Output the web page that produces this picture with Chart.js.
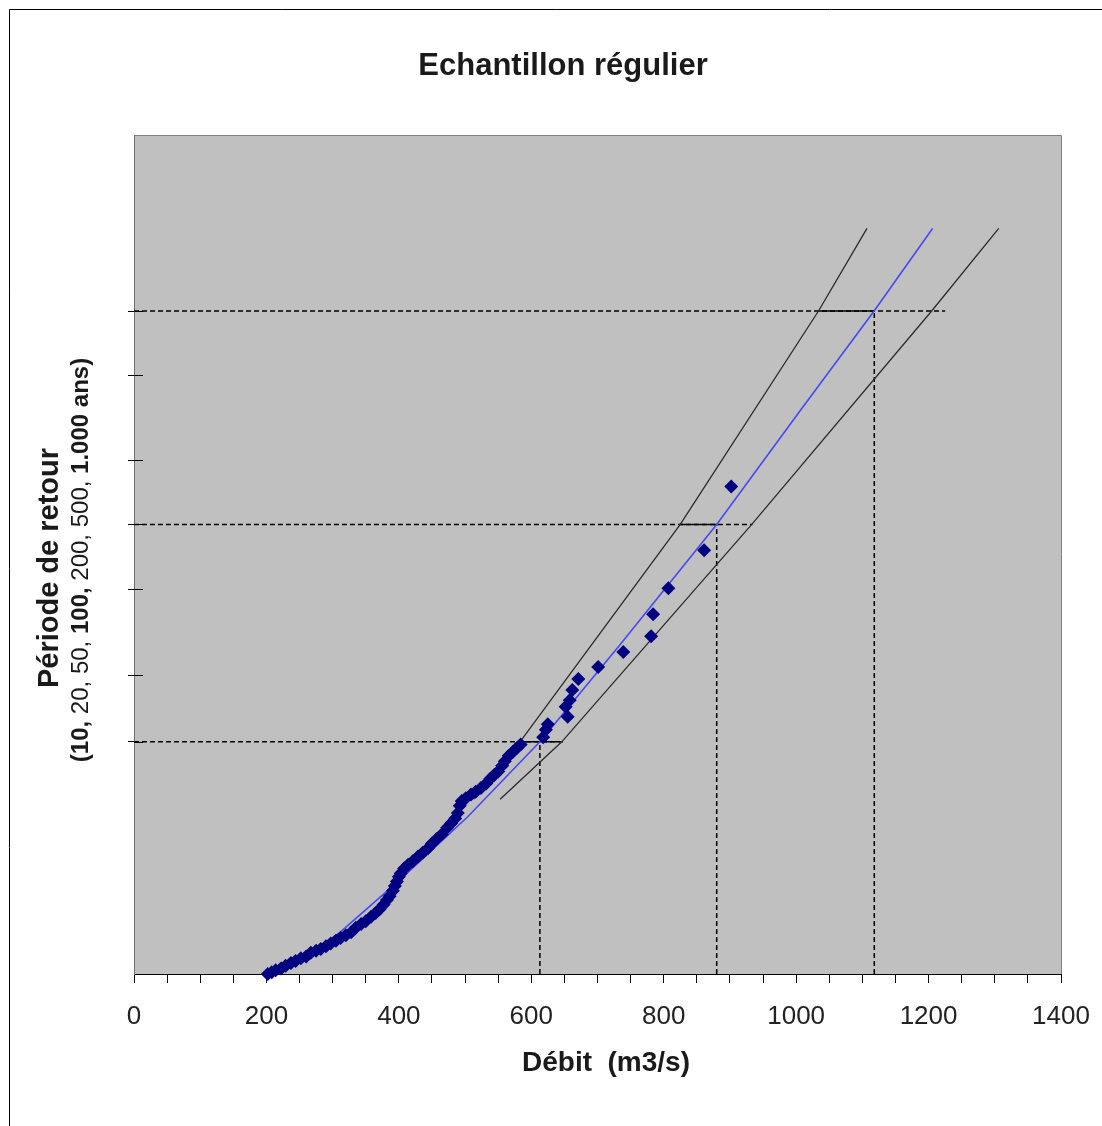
<!DOCTYPE html>
<html>
<head>
<meta charset="utf-8">
<title>Echantillon régulier</title>
<script src="https://cdn.jsdelivr.net/npm/chart.js@4/dist/chart.umd.min.js"></script>
<style>
  html, body { margin: 0; padding: 0; background: #fff; }
  #wrap { width: 1102px; height: 1126px; }
</style>
</head>
<body>
<div id="wrap"><canvas id="chart" width="1102" height="1126"></canvas></div>
<script>
(function () {
  'use strict';

  // observed annual maxima : discharge (m3/s) and Gumbel reduced variate
  var obsQ = [202, 208, 214, 222, 229, 237, 244, 252, 260, 267,
              275, 282, 290, 297, 305, 312, 320, 328, 335, 343,
              350, 358, 365, 371, 377, 382, 386, 391, 394, 397,
              400, 403, 408, 414, 421, 429, 436, 444, 450, 457,
              465, 473, 479, 485, 489, 492, 495, 501, 509, 516,
              524, 532, 538, 544, 550, 556, 560, 566, 572, 578,
              584, 618, 622, 625, 655, 652, 658, 662, 671, 701,
              739, 781, 784, 807, 861, 902];
  var obsU = [-0.26, -0.24, -0.22, -0.20, -0.17, -0.14, -0.12, -0.09, -0.07, -0.03,
              -0.01, 0.01, 0.04, 0.07, 0.10, 0.13, 0.16, 0.19, 0.24, 0.28,
              0.31, 0.36, 0.40, 0.44, 0.49, 0.54, 0.58, 0.64, 0.69, 0.74,
              0.79, 0.83, 0.88, 0.92, 0.96, 1.01, 1.05, 1.10, 1.15, 1.20,
              1.25, 1.32, 1.37, 1.42, 1.48, 1.56, 1.61, 1.64, 1.68, 1.71,
              1.75, 1.80, 1.85, 1.89, 1.93, 1.99, 2.04, 2.10, 2.14, 2.18,
              2.22, 2.30, 2.38, 2.44, 2.52, 2.63, 2.70, 2.81, 2.93, 3.06,
              3.22, 3.39, 3.63, 3.91, 4.32, 5.01];

  // fitted law and confidence bounds
  var fitQ = [223, 311, 402, 504, 613, 734, 880, 1006, 1118, 1206];
  var fitU = [-0.25, 0.19, 0.76, 1.44, 2.25, 3.30, 4.60, 5.83, 6.91, 7.80];
  var upperQ = [513, 583, 825, 1034, 1107];
  var upperU = [1.63, 2.25, 4.60, 6.91, 7.80];
  var lowerQ = [553, 646, 933, 1205, 1306];
  var lowerU = [1.63, 2.25, 4.60, 6.91, 7.80];

  // return periods on the y axis, and the three read-off design floods
  var returnPeriods = [10, 20, 50, 100, 200, 500, 1000];
  var designT = [10, 100, 1000];
  var designQ = [613, 880, 1118];
  var dashEndQ = [648, 934, 1225];
  var solidFromQ = [583, 825, 1034];
  var solidToQ = [646, 880, 1118];

  var xTicks = { min: 0, max: 1400, step: 50, labelEvery: 200 };
  var yRange = { min: -0.26, max: 8.81 };

  function gumbel(T) {
    return -Math.log(-Math.log(1 - 1 / T));
  }

  function pts(qs, us) {
    return qs.map(function (q, i) { return { x: q, y: us[i] }; });
  }

  var FONT = "'Liberation Sans', Arial, sans-serif";
  var TEXT = '#1a1a1a';

  var datasets = [];

  designT.forEach(function (T, i) {
    var u = gumbel(T);
    datasets.push({
      data: [{ x: 0, y: u }, { x: dashEndQ[i], y: u }],
      showLine: true, borderColor: '#000', borderWidth: 1.5, borderDash: [5, 3],
      pointRadius: 0, order: 5
    });
    datasets.push({
      data: [{ x: designQ[i], y: yRange.min }, { x: designQ[i], y: u }],
      showLine: true, borderColor: '#000', borderWidth: 1.5, borderDash: [5, 3],
      pointRadius: 0, order: 5
    });
    datasets.push({
      data: [{ x: solidFromQ[i], y: u }, { x: solidToQ[i], y: u }],
      showLine: true, borderColor: '#000', borderWidth: 1.5,
      pointRadius: 0, order: 5
    });
  });

  datasets.push({
    label: 'Borne sup', data: pts(upperQ, upperU), showLine: true,
    borderColor: '#2b2b2b', borderWidth: 1.3, pointRadius: 0, order: 4
  });
  datasets.push({
    label: 'Borne inf', data: pts(lowerQ, lowerU), showLine: true,
    borderColor: '#2b2b2b', borderWidth: 1.3, pointRadius: 0, order: 4
  });
  datasets.push({
    label: 'Ajustement', data: pts(fitQ, fitU), showLine: true,
    borderColor: '#4848f4', borderWidth: 1.6, pointRadius: 0, order: 3
  });
  datasets.push({
    label: 'Observations', data: pts(obsQ, obsU), showLine: false,
    pointStyle: 'rectRot', pointRadius: 7, pointHoverRadius: 7,
    backgroundColor: '#000080', borderColor: '#000080', borderWidth: 0,
    clip: 12, order: 1
  });

  var decor = {
    id: 'decor',
    beforeDraw: function (chart) {
      var ctx = chart.ctx, a = chart.chartArea;
      ctx.save();
      ctx.fillStyle = '#fff';
      ctx.fillRect(0, 0, chart.width, chart.height);
      ctx.strokeStyle = '#000';
      ctx.lineWidth = 1;
      ctx.beginPath();
      ctx.moveTo(9.5, chart.height + 5);
      ctx.lineTo(9.5, 9.5);
      ctx.lineTo(chart.width + 5, 9.5);
      ctx.stroke();
      ctx.fillStyle = '#c0c0c0';
      ctx.fillRect(a.left, a.top, a.right - a.left, a.bottom - a.top);
      ctx.strokeStyle = '#808080';
      ctx.beginPath();
      ctx.moveTo(a.left, a.top + 0.5);
      ctx.lineTo(a.right + 0.5, a.top + 0.5);
      ctx.lineTo(a.right + 0.5, a.bottom);
      ctx.stroke();
      ctx.restore();
    },
    afterDraw: function (chart) {
      var ctx = chart.ctx, a = chart.chartArea, y = chart.scales.y;
      ctx.save();
      // inner half of the cross-shaped y ticks
      ctx.strokeStyle = '#000';
      ctx.lineWidth = 1;
      returnPeriods.forEach(function (T) {
        var py = Math.round(y.getPixelForValue(gumbel(T))) + 0.5;
        ctx.beginPath();
        ctx.moveTo(a.left, py);
        ctx.lineTo(a.left + 9, py);
        ctx.stroke();
      });

      ctx.fillStyle = TEXT;
      ctx.textAlign = 'center';
      ctx.textBaseline = 'alphabetic';
      ctx.font = 'bold 31px ' + FONT;
      ctx.fillText('Echantillon régulier', 563, 75);

      ctx.font = 'bold 28px ' + FONT;
      ctx.fillText('Débit  (m3/s)', 606, 1071);

      // y title, first line
      ctx.save();
      ctx.translate(58, 568);
      ctx.rotate(-Math.PI / 2);
      ctx.font = 'bold 29px ' + FONT;
      ctx.fillText('Période de retour', 0, 0);
      ctx.restore();

      // y title, second line with bold key periods
      var parts = [['(10,', true], [' 20, 50, ', false], ['100,', true],
                   [' 200, 500, ', false], ['1.000 ans)', true]];
      var total = 0;
      parts.forEach(function (p) {
        ctx.font = (p[1] ? 'bold ' : '') + '24px ' + FONT;
        p.push(ctx.measureText(p[0]).width);
        total += p[2];
      });
      ctx.save();
      ctx.translate(88, 560);
      ctx.rotate(-Math.PI / 2);
      ctx.textAlign = 'left';
      var cx = -total / 2;
      parts.forEach(function (p) {
        ctx.font = (p[1] ? 'bold ' : '') + '24px ' + FONT;
        ctx.fillText(p[0], cx, 0);
        cx += p[2];
      });
      ctx.restore();
      ctx.restore();
    }
  };

  new Chart(document.getElementById('chart'), {
    type: 'scatter',
    data: { datasets: datasets },
    options: {
      responsive: false,
      animation: false,
      devicePixelRatio: 1,
      layout: { padding: { left: 0, right: 41, top: 135, bottom: 0 } },
      plugins: { legend: { display: false }, tooltip: { enabled: false } },
      scales: {
        x: {
          type: 'linear',
          min: xTicks.min,
          max: xTicks.max,
          afterFit: function (s) { s.height = 152; s.paddingLeft = 0; s.paddingRight = 0; },
          grid: { drawOnChartArea: false, drawTicks: true, tickLength: 9, color: '#000' },
          border: { color: '#000', width: 1 },
          ticks: {
            stepSize: xTicks.step,
            autoSkip: false,
            maxRotation: 0,
            minRotation: 0,
            padding: 18,
            color: '#222',
            font: { family: FONT, size: 26 },
            callback: function (v) { return v % xTicks.labelEvery === 0 ? String(v) : ''; }
          }
        },
        y: {
          type: 'linear',
          min: yRange.min,
          max: yRange.max,
          afterFit: function (s) { s.width = 134; s.paddingTop = 0; s.paddingBottom = 0; },
          afterBuildTicks: function (s) {
            s.ticks = returnPeriods.map(function (T) { return { value: gumbel(T) }; });
          },
          grid: { drawOnChartArea: false, drawTicks: true, tickLength: 6, color: '#000' },
          border: { color: '#707070', width: 1 },
          ticks: { display: false }
        }
      }
    },
    plugins: [decor]
  });
})();
</script>
</body>
</html>
